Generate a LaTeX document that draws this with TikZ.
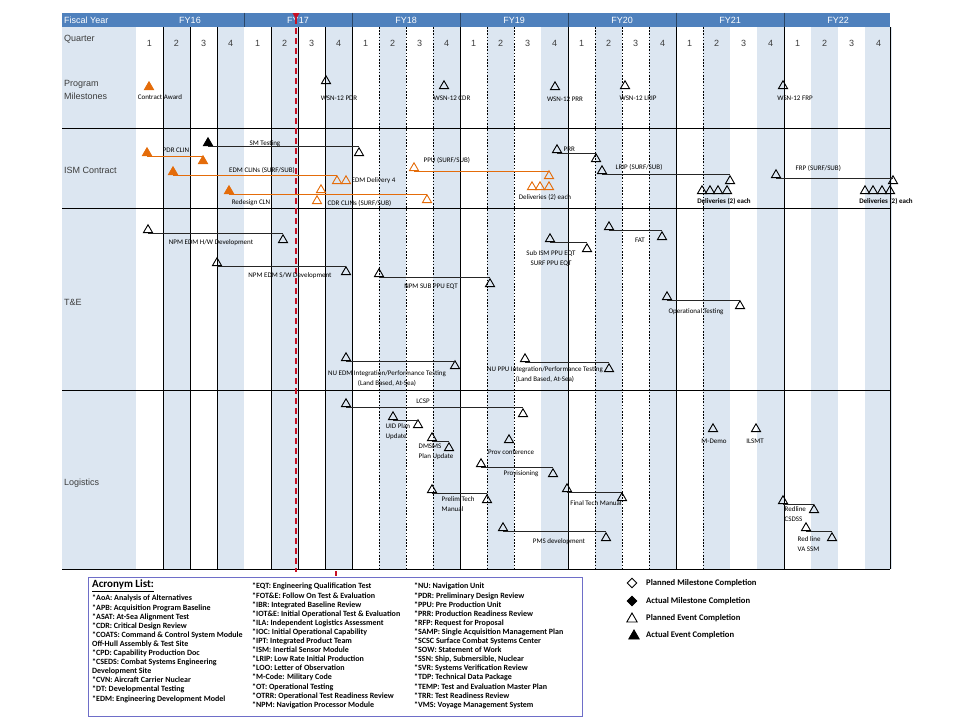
\documentclass[tikz,border=0pt]{standalone}
\usepackage{fontspec}
\setmainfont{Liberation Sans}
\newfontfamily\calfont{Carlito}
\usepackage{tikz}
\usetikzlibrary{shapes.geometric}
\definecolor{fyblue}{RGB}{79, 129, 189}
\definecolor{qshade}{RGB}{220, 230, 241}
\definecolor{ismorange}{RGB}{228, 108, 10}
\definecolor{todayred}{RGB}{200, 16, 36}
\definecolor{listframe}{RGB}{110, 110, 200}
\definecolor{rowgray}{RGB}{60, 60, 60}

\begin{document}
\begin{tikzpicture}[x=1pt, y=-1pt,
    ev/.style={regular polygon, regular polygon sides=3, minimum size=10.5pt,
               inner sep=0pt, draw=black, line width=0.9pt},
    evdone/.style={ev, fill=black},
    orev/.style={ev, draw=ismorange},
    ordone/.style={ev, draw=ismorange, fill=ismorange},
    bar/.style={line width=0.9pt, black!85},
    orbar/.style={line width=1pt, ismorange},
    lbl/.style={font=\calfont\fontsize{7}{10}\selectfont, inner sep=0.5pt},
    lblb/.style={lbl, font=\calfont\bfseries\fontsize{7}{10}\selectfont},
    rowtxt/.style={font=\fontsize{9}{13}\selectfont, text=rowgray, anchor=west,
                   align=left, inner sep=0pt},
    grid/.style={line width=0.8pt, black},
    acr/.style={font=\calfont\bfseries\fontsize{8}{9.1}\selectfont, anchor=north west,
                align=left, inner sep=0pt},
    lgd/.style={font=\calfont\bfseries\fontsize{8.6}{10}\selectfont, anchor=west, inner sep=0pt}
  ]
  \useasboundingbox (0,0) rectangle (960,720);

  % ---- Grid ----
  \fill[qshade] (62,27) rectangle (136,569);
  \foreach \q in {1,3,...,27}
    \fill[qshade] ({136+27*\q},27) rectangle ({163+27*\q},569);
  \fill[fyblue] (62,12.5) rectangle (890,27);
  \foreach \vx in {244,352,460,568,676,784}
    \draw[fyblue!55!black, line width=0.8pt] (\vx,12.5) -- (\vx,27);
  \foreach \vx in {163,190,217,271,298,325,352,460,568,676,784,890}
    \draw[grid] (\vx,27) -- (\vx,569);
  \foreach \vx in {379,406,433,487,514,595,622,649,703}
    \draw[grid, dash pattern=on 1.6pt off 1.6pt] (\vx,27) -- (\vx,569);
  \foreach \hy in {128,208,390,569}
    \draw[grid] (62,\hy) -- (890,\hy);

  % ---- Header ----
  \node[rowtxt, text=white] (fyhead) at (64,20) {Fiscal Year};
  \foreach \fy [count=\i from 0] in {16,...,22}
    \node[font=\fontsize{9}{11}\selectfont, text=white] (fy\fy) at ({190+108*\i},20) {FY\fy};
  \node[rowtxt] (qhead) at (64,39) {Quarter};
  \foreach \q in {0,...,27}{
    \pgfmathtruncatemacro\qn{mod(\q,4)+1}
    \node[font=\fontsize{9}{11}\selectfont, text=rowgray] (q\q) at ({149.5+27*\q},43) {\qn};
  }
  \node[rowtxt] (progrow) at (64,90) {Program\\Milestones};
  \node[rowtxt] (ismrow) at (64,170) {ISM Contract};
  \node[rowtxt] (terow) at (64,302) {T\&E};
  \node[rowtxt] (logrow) at (64,483) {Logistics};

  % ---- Today line ----
  \coordinate (today) at (296,13);
  \draw[todayred, line width=2pt, dash pattern=on 6pt off 4pt] (today) ++(0,5) -- (296,572);
  \fill[todayred] (today) ++(-3.5,0) -- ++(7,0) -- ++(-3.5,6) -- cycle;
  \draw[todayred, line width=1.5pt] (336,571) -- (336,576);

  % ---- Program Milestones ----
  \node[ordone] (award) at (149,87) {};
  \node[lbl] (awardtxt) at (160,97) {Contract Award};
  \node[ev] (pdr) at (326,81) {};
  \node[lbl] (pdrtxt) at (339,98) {WSN-12 PDR};
  \node[ev] (cdr) at (444,86) {};
  \node[lbl] (cdrtxt) at (452,98) {WSN-12 CDR};
  \node[ev] (prr) at (555,87) {};
  \node[lbl] (prrtxt) at (565,99) {WSN-12 PRR};
  \node[ev] (lrip) at (625,86) {};
  \node[lbl] (liptxt) at (638,98) {WSN-12 LRIP};
  \node[ev] (frp) at (783,86) {};
  \node[lbl] (frptxt) at (795,98) {WSN-12 FRP};

  % ---- ISM Contract ----
  \node[ordone] (pdrclinS) at (147,153) {};
  \node[ordone] (pdrclinE) at (203,161) {};
  \draw[orbar] (pdrclinS.south) -- (pdrclinS.south -| pdrclinE.north);
  \node[lbl] (pdrclintxt) at (176,150) {PDR CLIN};

  \node[evdone] (smS) at (208,143) {};
  \node[ev] (smE) at (359,153) {};
  \draw[bar] (smS.south) -- (smS.south -| smE.north);
  \node[lbl] (smtxt) at (265,144) {SM Testing};

  \node[ordone] (edmS) at (173,172) {};
  \node[orev] (edmA) at (337,181) {};
  \node[orev] (edmB) at (346,181) {};
  \draw[orbar] (edmS.south) -- (edmS.south -| edmA.north);
  \node[lbl] (edmtxt) at (262,170) {EDM CLINs (SURF/SUB)};
  \node[lbl, anchor=west] (edmdeltxt) at (351,181) {EDM Delivery 4};

  \node[ordone] (redesS) at (229,191) {};
  \node[orev] (redesE) at (427,200) {};
  \draw[orbar] (redesS.south) -- (redesS.south -| redesE.north);
  \node[lbl] (redestxt) at (251,203) {Redesign CLN};
  \node[orev] (cdrclinA) at (321,190) {};
  \node[orev] (cdrclinB) at (317,201) {};
  \node[lbl, anchor=west] (cdrclintxt) at (327,203) {CDR CLINs (SURF/SUB)};

  \node[orev] (ppuS) at (414,168) {};
  \node[orev] (ppuE) at (549,176) {};
  \draw[orbar] (ppuS.south) -- (ppuS.south -| ppuE.north);
  \node[lbl, anchor=west] (pputxt) at (423,160) {PPU (SURF/SUB)};
  \foreach \dx [count=\i] in {532,540,549}
    \node[orev] (ppudel\i) at (\dx,187) {};
  \node[lbl] (ppudeltxt) at (545,197) {Deliveries (2) each};

  \node[ev] (prrS) at (557,150) {};
  \node[ev] (prrE) at (596,159) {};
  \draw[bar] (prrS.south) -- (prrS.south -| prrE.north);
  \node[lbl, anchor=west] (prrbartxt) at (563,149) {PRR};

  \node[ev] (lripS) at (602,171) {};
  \node[ev] (lripE) at (730,181) {};
  \draw[bar] (lripS.south) -- (lripS.south -| lripE.north);
  \node[lbl, anchor=west] (lripbartxt) at (615,167) {LRIP (SURF/SUB)};
  \foreach \dx [count=\i] in {702,710,718,727}
    \node[ev] (lripdel\i) at (\dx,191) {};
  \node[lblb] (lripdeltxt) at (724,201) {Deliveries (2) each};

  \node[ev] (frpS) at (776,175) {};
  \node[ev] (frpE) at (893,181) {};
  \draw[bar] (frpS.south) -- (frpS.south -| frpE.north);
  \node[lbl, anchor=west] (frpbartxt) at (795,168) {FRP (SURF/SUB)};
  \foreach \dx [count=\i] in {865,873,882,890}
    \node[ev] (frpdel\i) at (\dx,191) {};
  \node[lblb] (frpdeltxt) at (886,201) {Deliveries (2) each};

  % ---- T&E ----
  \node[ev] (hwS) at (148,230) {};
  \node[ev] (hwE) at (283,240) {};
  \draw[bar] (hwS.south) -- (hwS.south -| hwE.north);
  \node[lbl] (hwtxt) at (211,243) {NPM EDM H/W Development};

  \node[ev] (swS) at (217,263) {};
  \node[ev] (swE) at (346,272) {};
  \draw[bar] (swS.south) -- (swS.south -| swE.north);
  \node[lbl] (swtxt) at (290,276) {NPM EDM S/W Development};

  \node[ev] (eqtS) at (379,274) {};
  \node[ev] (eqtE) at (490,284) {};
  \draw[bar] (eqtS.south) -- (eqtS.south -| eqtE.north);
  \node[lbl] (eqttxt) at (431,287) {NPM SUB PPU EQT};

  \node[ev] (nuedmS) at (346,358) {};
  \node[ev] (nuedmE) at (455,366) {};
  \draw[bar] (nuedmS.south) -- (nuedmS.south -| nuedmE.north);
  \node[lbl, align=center] (nuedmtxt) at (387,379) {NU EDM Integration/Performance Testing\\(Land Based, At-Sea)};

  \node[ev] (nuppuS) at (525,359) {};
  \node[ev] (nuppuE) at (609,369) {};
  \draw[bar] (nuppuS.south) -- (nuppuS.south -| nuppuE.north);
  \node[lbl, align=center] (nupputxt) at (545,375) {NU PPU Integration/Performance Testing\\(Land Based, At-Sea)};

  \node[ev] (subismS) at (550,239) {};
  \node[ev] (subismE) at (587,249) {};
  \draw[bar] (subismS.south) -- (subismS.south -| subismE.north);
  \node[lbl, align=center] (subismtxt) at (551,259) {Sub ISM PPU EQT\\SURF PPU EQT};

  \node[ev] (fatS) at (609,227) {};
  \node[ev] (fatE) at (662,237) {};
  \draw[bar] (fatS.south) -- (fatS.south -| fatE.north);
  \node[lbl] (fattxt) at (640,240) {FAT};

  \node[ev] (otS) at (667,297) {};
  \node[ev] (otE) at (740,306) {};
  \draw[bar] (otS.south) -- (otS.south -| otE.north);
  \node[lbl] (ottxt) at (696,312) {Operational Testing};

  % ---- Logistics ----
  \node[ev] (lcspS) at (346,404) {};
  \node[ev] (lcspE) at (523,414) {};
  \draw[bar] (lcspS.south) -- (lcspS.south -| lcspE.north);
  \node[lbl] (lcsptxt) at (423,401) {LCSP};

  \node[ev] (uidS) at (393,417) {};
  \node[ev] (uidE) at (418,425) {};
  \draw[bar] (uidS.south) -- (uidS.south -| uidE.north);
  \node[lbl, anchor=west, align=left] (uidtxt) at (385,432) {UID Plan\\Update};

  \node[ev] (dmsS) at (432,438) {};
  \node[ev] (dmsE) at (449,448) {};
  \draw[bar] (dmsS.south) -- (dmsS.south -| dmsE.north);
  \node[lbl, anchor=west, align=left] (dmstxt) at (418,452) {DMSMS\\Plan Update};

  \node[ev] (provconf) at (509,440) {};
  \node[lbl] (provconftxt) at (511,452) {Prov conference};

  \node[ev] (provS) at (481,464) {};
  \node[ev] (provE) at (553,474) {};
  \draw[bar] (provS.south) -- (provS.south -| provE.north);
  \node[lbl] (provtxt) at (521,474) {Provisioning};

  \node[ev] (prelimS) at (432,490) {};
  \node[ev] (prelimE) at (487,500) {};
  \draw[bar] (prelimS.south) -- (prelimS.south -| prelimE.north);
  \node[lbl, anchor=west, align=left] (prelimtxt) at (441,504) {Prelim Tech\\Manual};

  \node[ev] (finalS) at (567,489) {};
  \node[ev] (finalE) at (622,498) {};
  \draw[bar] (finalS.south) -- (finalS.south -| finalE.north);
  \node[lbl] (finaltxt) at (596,503) {Final Tech Manual};

  \node[ev] (pmsS) at (503,528) {};
  \node[ev] (pmsE) at (606,538) {};
  \draw[bar] (pmsS.south) -- (pmsS.south -| pmsE.north);
  \node[lbl] (pmstxt) at (559,542) {PMS development};

  \node[ev] (mdemo) at (713,429) {};
  \node[lbl] (mdemotxt) at (714,441) {M-Demo};
  \node[ev] (ilsmt) at (756,429) {};
  \node[lbl] (ilsmttxt) at (755,441) {ILSMT};

  \node[ev] (redlaS) at (783,501) {};
  \node[ev] (redlaE) at (814,510) {};
  \draw[bar] (redlaS.south) -- (redlaS.south -| redlaE.north);
  \node[lbl, anchor=west, align=left] (redlatxt) at (784,514) {Redline\\CSDSS};

  \node[ev] (redlbS) at (806,528) {};
  \node[ev] (redlbE) at (832,538) {};
  \draw[bar] (redlbS.south) -- (redlbS.south -| redlbE.north);
  \node[lbl, anchor=west, align=left] (redlbtxt) at (797,544) {Red line\\VA SSM};

  % ---- Acronym list ----
  \draw[listframe, line width=0.8pt] (88,577) rectangle (582,716);
  \node[anchor=north west, inner sep=0pt, font=\calfont\bfseries\fontsize{11}{12}\selectfont]
    (acrhead) at (92,580) {\underline{Acronym List:}};
  \node[acr] (acrcolA) at (92,595) {*AoA: Analysis of Alternatives\\
    *APB: Acquisition Program Baseline\\
    *ASAT: At-Sea Alignment Test\\
    *CDR: Critical Design Review\\
    *COATS: Command \& Control System Module\\
    Off-Hull Assembly \&  Test Site\\
    *CPD: Capability Production Doc\\
    *CSEDS: Combat Systems Engineering\\
    Development Site\\
    *CVN: Aircraft Carrier Nuclear\\
    *DT: Developmental Testing\\
    *EDM: Engineering Development Model};
  \node[acr] (acrcolB) at (252,583) {*EQT: Engineering Qualification Test\\
    *FOT\&E: Follow On Test \& Evaluation\\
    *IBR: Integrated Baseline Review\\
    *IOT\&E: Initial Operational Test \& Evaluation\\
    *ILA: Independent Logistics Assessment\\
    *IOC: Initial Operational Capability\\
    *IPT: Integrated Product Team\\
    *ISM: Inertial Sensor Module\\
    *LRIP: Low Rate Initial Production\\
    *LOO: Letter of Observation\\
    *M-Code: Military Code\\
    *OT: Operational Testing\\
    *OTRR: Operational Test Readiness Review\\
    *NPM: Navigation Processor Module};
  \node[acr] (acrcolC) at (414,583) {*NU: Navigation Unit\\
    *PDR: Preliminary Design Review\\
    *PPU: Pre Production Unit\\
    *PRR: Production Readiness Review\\
    *RFP: Request for Proposal\\
    *SAMP: Single Acquisition Management Plan\\
    *SCSC Surface Combat Systems Center\\
    *SOW: Statement of Work\\
    *SSN: Ship, Submersible, Nuclear\\
    *SVR: Systems Verification Review\\
    *TDP: Technical Data Package\\
    *TEMP: Test and Evaluation Master Plan\\
    *TRR: Test Readiness Review\\
    *VMS: Voyage Management System};

  % ---- Legend ----
  \node[diamond, draw, line width=0.9pt, minimum size=10pt, inner sep=0pt] (lgpm) at (632,583) {};
  \node[lgd] (lgpmtxt) at (646,583) {Planned Milestone Completion};
  \node[diamond, draw, fill=black, line width=0.9pt, minimum size=10pt, inner sep=0pt] (lgam) at (632,601) {};
  \node[lgd] (lgamtxt) at (646,601) {Actual Milestone Completion};
  \node[ev, minimum size=12pt] (lgpe) at (632,619) {};
  \node[lgd] (lgpetxt) at (646,618) {Planned Event Completion};
  \node[evdone, minimum size=12pt] (lgae) at (634,636) {};
  \node[lgd] (lgaetxt) at (646,635) {Actual Event Completion};
\end{tikzpicture}
\end{document}
